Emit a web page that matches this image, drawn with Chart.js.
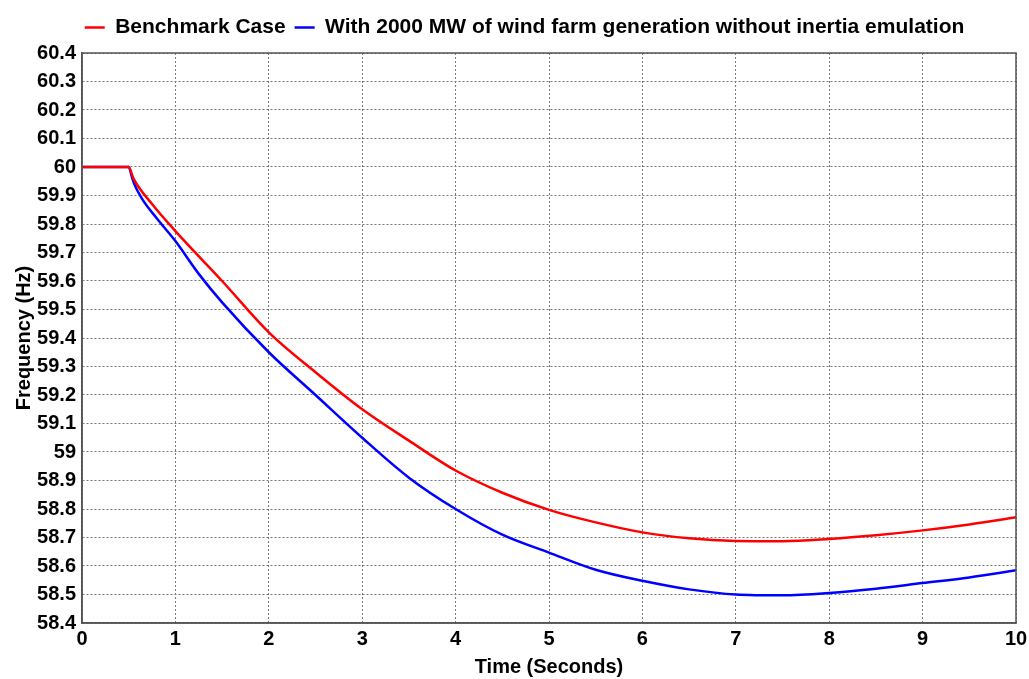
<!DOCTYPE html>
<html>
<head>
<meta charset="utf-8">
<script src="https://cdn.jsdelivr.net/npm/chart.js@4"></script>
<style>
  html, body { margin: 0; padding: 0; background: #fff; }
  #wrap { width: 1029px; height: 679px; }
</style>
</head>
<body>
<div id="wrap"><canvas id="chart" width="1029" height="679"></canvas></div>
<script>
const seriesNames = ['Benchmark Case', 'With 2000 MW of wind farm generation without inertia emulation'];

// benchmark (red)
const timeRed = [0, 0.5, 0.55, 0.75, 1, 1.5, 2, 2.5, 3, 3.5, 4, 4.5, 5, 5.5, 6, 6.5, 7, 7.5, 8, 8.5, 9, 9.5, 10];
const freqRed = [60, 60, 59.96, 59.87, 59.775, 59.6, 59.42, 59.28, 59.15, 59.04, 58.935, 58.857, 58.797, 58.753, 58.718, 58.697, 58.688, 58.687, 58.695, 58.708, 58.725, 58.746, 58.771];

// wind without inertia emulation (blue)
const timeBlue = [0, 0.5, 0.53, 0.56, 0.64, 0.8, 1, 1.25, 1.5, 2, 2.5, 3, 3.5, 4, 4.5, 5, 5.5, 6, 6.5, 7, 7.5, 8, 8.5, 9, 9.5, 10];
const freqBlue = [60, 60, 59.97, 59.94, 59.89, 59.82, 59.74, 59.625, 59.525, 59.35, 59.2, 59.05, 58.91, 58.8, 58.71, 58.647, 58.587, 58.548, 58.518, 58.5, 58.497, 58.505, 58.52, 58.54, 58.56, 58.585];

const xMin = 0, xMax = 10, xStep = 1;
const yMin = 58.4, yMax = 60.4, yStep = 0.1;

const pts = (xs, ys) => xs.map((x, i) => ({ x: x, y: ys[i] }));

const font = 'Liberation Sans, Arial, sans-serif';

// solid frame around the plot
const frame = {
  id: 'frame',
  afterLayout: (c) => {
    // legend sits a bit right of centre and closer to the top in the original
    c.legend.left += 10;
    c.legend.right += 10;
    c.legend.top -= 5;
    c.legend.bottom -= 5;
  },
  afterDatasetsDraw: (c) => {
    const a = c.chartArea, ctx = c.ctx;
    ctx.save();
    ctx.strokeStyle = '#555';
    ctx.lineWidth = 1.5;
    ctx.strokeRect(a.left, a.top, a.right - a.left, a.bottom - a.top);
    ctx.restore();
  }
};

const chart = new Chart(document.getElementById('chart').getContext('2d'), {
  type: 'line',
  data: {
    datasets: [
      {
        label: seriesNames[0],
        data: pts(timeRed, freqRed),
        borderColor: '#ff0000',
        backgroundColor: '#ff0000',
        borderWidth: 2.5,
        pointRadius: 0,
        cubicInterpolationMode: 'monotone'
      },
      {
        label: seriesNames[1],
        data: pts(timeBlue, freqBlue),
        borderColor: '#0000ff',
        backgroundColor: '#0000ff',
        borderWidth: 2.5,
        pointRadius: 0,
        cubicInterpolationMode: 'monotone'
      }
    ]
  },
  options: {
    responsive: false,
    animation: false,
    layout: { padding: { top: 13, right: 0, left: 0, bottom: 0 } },
    plugins: {
      legend: {
        position: 'top',
        labels: {
          usePointStyle: true,
          pointStyle: 'line',
          pointStyleWidth: 20,
          padding: 9,
          color: '#000',
          font: { family: font, size: 21, weight: 'bold' }
        }
      },
      tooltip: { enabled: false }
    },
    scales: {
      x: {
        type: 'linear',
        min: xMin,
        max: xMax,
        ticks: {
          stepSize: xStep,
          color: '#000',
          padding: 4,
          font: { family: font, size: 20, weight: 'bold' }
        },
        grid: { color: '#777', lineWidth: 1, drawTicks: false },
        border: { display: true, color: '#555', width: 1.5, dash: [2, 2] },
        title: {
          display: true,
          text: 'Time (Seconds)',
          color: '#000',
          padding: { top: 0, bottom: 0 },
          font: { family: font, size: 20, weight: 'bold' }
        },
        afterFit: (s) => { s.height = 56; s.paddingRight = 13; s.paddingLeft = 0; }
      },
      y: {
        type: 'linear',
        min: yMin,
        max: yMax,
        ticks: {
          stepSize: yStep,
          color: '#000',
          padding: 6,
          font: { family: font, size: 20, weight: 'bold' },
          callback: (v) => String(Number(v.toFixed(1)))
        },
        grid: { color: '#777', lineWidth: 1, drawTicks: false },
        border: { display: true, color: '#555', width: 1.5, dash: [2, 2] },
        title: {
          display: true,
          text: 'Frequency (Hz)',
          color: '#000',
          padding: { top: 12, bottom: 0 },
          font: { family: font, size: 20, weight: 'bold' }
        },
        afterFit: (s) => { s.width = 82; }
      }
    }
  },
  plugins: [frame]
});
</script>
</body>
</html>
